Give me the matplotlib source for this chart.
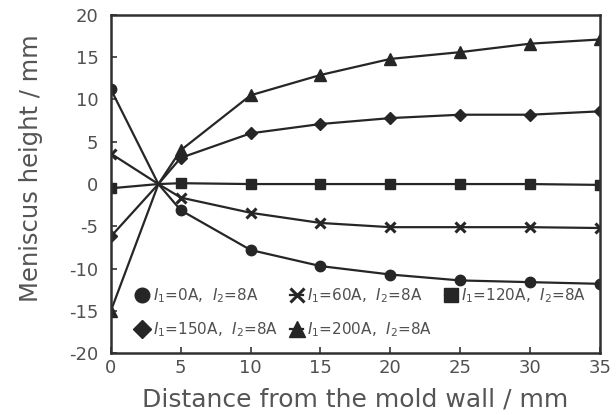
import matplotlib
matplotlib.use("Agg")
import matplotlib.pyplot as plt

plt.rcParams['font.family'] = ['DejaVu Sans']
plt.rcParams['mathtext.fontset'] = 'dejavusans'
plt.rcParams['axes.unicode_minus'] = False

# Distance from the mold wall (mm); 3.4 is the common crossing point
distance = [0, 3.4, 5, 10, 15, 20, 25, 30, 35]

h_0A = [11.2, 0, -3.1, -7.8, -9.7, -10.7, -11.4, -11.6, -11.8]
h_60A = [3.6, 0, -1.6, -3.4, -4.6, -5.1, -5.1, -5.1, -5.2]
h_120A = [-0.5, 0, 0.1, 0.0, 0.0, 0.0, 0.0, 0.0, -0.1]
h_150A = [-6.2, 0, 3.1, 6.0, 7.1, 7.8, 8.2, 8.2, 8.6]
h_200A = [-15.0, 0, 4.0, 10.5, 12.9, 14.8, 15.6, 16.6, 17.1]

labels = [r"$I_1$=0A,  $I_2$=8A", r"$I_1$=60A,  $I_2$=8A", r"$I_1$=120A,  $I_2$=8A",
          r"$I_1$=150A,  $I_2$=8A", r"$I_1$=200A,  $I_2$=8A"]

xticks = [0, 5, 10, 15, 20, 25, 30, 35]
yticks = [-20, -15, -10, -5, 0, 5, 10, 15, 20]

line_c = '#262626'
fig = plt.figure(figsize=(6.16, 4.15), dpi=100)
ax = fig.add_axes([0.180, 0.149, 0.794, 0.815])

mk = [0, 2, 3, 4, 5, 6, 7, 8]
series = [
    (h_0A, 'o', 7.5, 1.0),
    (h_60A, 'x', 7.5, 2.2),
    (h_120A, 's', 7.5, 1.0),
    (h_150A, 'D', 6.5, 1.0),
    (h_200A, '^', 8.0, 1.0),
]
handles = []
for (vals, m, ms, mew), lab in zip(series, labels):
    h, = ax.plot(distance, vals, color=line_c, lw=1.6, marker=m, ms=ms,
                 mew=mew, mfc=line_c, mec=line_c, markevery=mk, label=lab)
    handles.append(h)

ax.set_xlim(0, 35)
ax.set_ylim(-20, 20)
ax.set_xticks(xticks)
ax.set_yticks(yticks)
ax.tick_params(direction='in', length=4, width=1.2, colors='#333333',
               labelcolor='#505050', labelsize=13)
ax.tick_params(axis='y', pad=9)
ax.tick_params(axis='x', pad=4)
for s in ax.spines.values():
    s.set_linewidth(1.8)
    s.set_color('#303030')

ax.set_xlabel("Distance from the mold wall / mm", fontsize=18, color='#555555', labelpad=8)
ax.set_ylabel("Meniscus height / mm", fontsize=17.5, color='#555555')
ax.yaxis.set_label_coords(-0.139, 0.547)

order = [0, 3, 1, 4, 2]
leg = ax.legend([handles[i] for i in order], [labels[i] for i in order],
                ncol=3, loc='lower left', bbox_to_anchor=(0.03, 0.01),
                frameon=False, fontsize=11, markerscale=1.4,
                handlelength=0.8, handletextpad=0.3, columnspacing=0.8,
                labelspacing=1.0, borderaxespad=0.3)
for t in leg.get_texts():
    t.set_color('#505050')

fig.savefig("out.png", dpi=100)
